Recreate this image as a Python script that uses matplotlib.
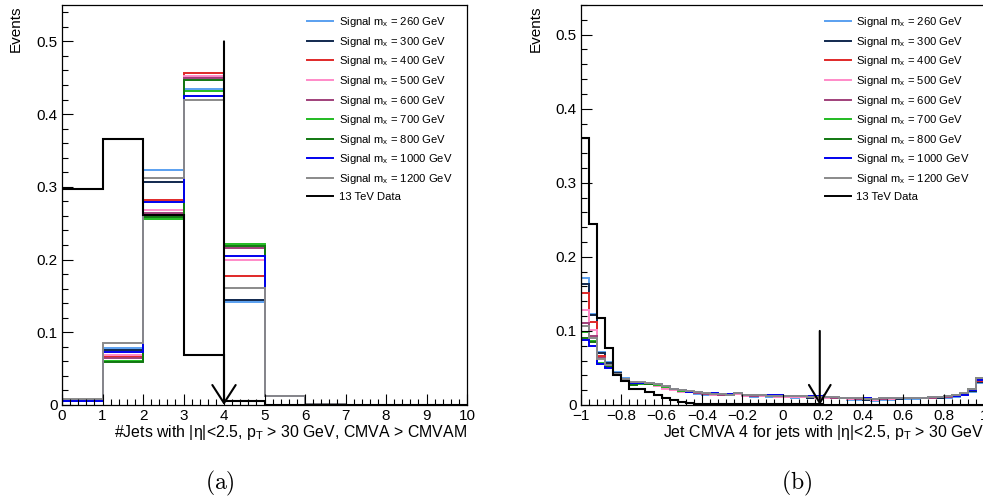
import numpy as np
import matplotlib.pyplot as plt
from matplotlib.lines import Line2D
from matplotlib.patches import FancyArrowPatch
from matplotlib.ticker import MultipleLocator, FuncFormatter

plt.rcParams['font.family'] = ['Liberation Sans', 'DejaVu Sans']
plt.rcParams['mathtext.fontset'] = 'custom'
plt.rcParams['mathtext.rm'] = 'Liberation Sans'
plt.rcParams['mathtext.it'] = 'Liberation Sans:italic'

# ---- samples ----
masses = [260, 300, 400, 500, 600, 700, 800, 1000, 1200]
colors = ['#5aa0f0', '#10284e', '#e02828', '#ff8ac8', '#a0407a',
          '#22bb22', '#117711', '#0000ee', '#8a8a8a']

# (a) number of CMVA-medium jets, bins 0..10
edges_a = np.arange(0, 11)
sig_a = {
    260:  [0.006, 0.079, 0.323, 0.435, 0.142, 0.012, 0.001, 0, 0, 0],
    300:  [0.007, 0.076, 0.306, 0.451, 0.145, 0.012, 0.001, 0, 0, 0],
    400:  [0.006, 0.066, 0.282, 0.457, 0.177, 0.012, 0.001, 0, 0, 0],
    500:  [0.006, 0.069, 0.268, 0.453, 0.1995, 0.012, 0.001, 0, 0, 0],
    600:  [0.006, 0.064, 0.264, 0.449, 0.216, 0.012, 0.001, 0, 0, 0],
    700:  [0.006, 0.061, 0.256, 0.432, 0.221, 0.013, 0.001, 0, 0, 0],
    800:  [0.006, 0.0595, 0.259, 0.4465, 0.219, 0.013, 0.001, 0, 0, 0],
    1000: [0.006, 0.073, 0.279, 0.425, 0.205, 0.012, 0.001, 0, 0, 0],
    1200: [0.008, 0.085, 0.3125, 0.420, 0.161, 0.012, 0.001, 0, 0, 0],
}
data_a = [0.297, 0.366, 0.261, 0.069, 0.006, 0, 0, 0, 0, 0]
cut_a = 4.0

# (b) jet CMVA discriminant, 50 bins from -1 to 1
edges_b = np.linspace(-1, 1, 51)
sig_b = {
    260:  [0.171, 0.123, 0.072, 0.058, 0.044, 0.036, 0.030, 0.030, 0.028, 0.026,
           0.023, 0.020, 0.018, 0.017, 0.015, 0.014, 0.014, 0.013, 0.013, 0.015,
           0.012, 0.011, 0.012, 0.011, 0.011, 0.011, 0.010, 0.011, 0.010, 0.010,
           0.010, 0.009, 0.009, 0.007, 0.007, 0.007, 0.006, 0.007, 0.007, 0.008,
           0.008, 0.008, 0.009, 0.009, 0.010, 0.010, 0.011, 0.013, 0.018, 0.030],
    300:  [0.163, 0.121, 0.070, 0.057, 0.043, 0.035, 0.030, 0.030, 0.029, 0.027,
           0.024, 0.021, 0.019, 0.017, 0.016, 0.015, 0.014, 0.014, 0.013, 0.016,
           0.012, 0.012, 0.012, 0.012, 0.011, 0.011, 0.011, 0.011, 0.010, 0.010,
           0.010, 0.010, 0.009, 0.008, 0.008, 0.007, 0.007, 0.008, 0.008, 0.008,
           0.009, 0.009, 0.009, 0.010, 0.010, 0.011, 0.012, 0.014, 0.019, 0.031],
    400:  [0.151, 0.112, 0.066, 0.053, 0.042, 0.034, 0.030, 0.029, 0.029, 0.026,
           0.023, 0.020, 0.019, 0.018, 0.016, 0.015, 0.015, 0.014, 0.014, 0.015,
           0.013, 0.012, 0.013, 0.012, 0.012, 0.012, 0.011, 0.012, 0.011, 0.011,
           0.011, 0.010, 0.010, 0.008, 0.008, 0.008, 0.007, 0.008, 0.008, 0.009,
           0.009, 0.009, 0.010, 0.010, 0.011, 0.011, 0.012, 0.014, 0.020, 0.033],
    500:  [0.128, 0.101, 0.063, 0.052, 0.041, 0.034, 0.029, 0.029, 0.028, 0.026,
           0.022, 0.020, 0.018, 0.017, 0.016, 0.015, 0.014, 0.014, 0.013, 0.015,
           0.012, 0.012, 0.012, 0.012, 0.011, 0.011, 0.011, 0.011, 0.011, 0.010,
           0.010, 0.010, 0.010, 0.008, 0.008, 0.008, 0.007, 0.008, 0.008, 0.009,
           0.009, 0.009, 0.010, 0.010, 0.011, 0.011, 0.012, 0.014, 0.020, 0.034],
    600:  [0.111, 0.093, 0.064, 0.054, 0.042, 0.035, 0.031, 0.030, 0.029, 0.027,
           0.024, 0.021, 0.019, 0.018, 0.016, 0.015, 0.015, 0.014, 0.014, 0.016,
           0.013, 0.012, 0.013, 0.012, 0.012, 0.012, 0.012, 0.012, 0.011, 0.011,
           0.011, 0.010, 0.010, 0.009, 0.008, 0.008, 0.008, 0.008, 0.009, 0.009,
           0.009, 0.010, 0.010, 0.010, 0.011, 0.011, 0.012, 0.015, 0.021, 0.035],
    700:  [0.099, 0.087, 0.057, 0.051, 0.040, 0.034, 0.029, 0.029, 0.029, 0.027,
           0.024, 0.021, 0.019, 0.018, 0.017, 0.016, 0.015, 0.015, 0.014, 0.016,
           0.013, 0.013, 0.013, 0.012, 0.012, 0.012, 0.012, 0.012, 0.011, 0.011,
           0.011, 0.011, 0.010, 0.009, 0.009, 0.008, 0.008, 0.009, 0.009, 0.009,
           0.010, 0.010, 0.010, 0.011, 0.011, 0.012, 0.013, 0.015, 0.022, 0.036],
    800:  [0.091, 0.085, 0.056, 0.051, 0.040, 0.033, 0.027, 0.030, 0.029, 0.028,
           0.025, 0.021, 0.020, 0.018, 0.017, 0.016, 0.015, 0.015, 0.014, 0.016,
           0.013, 0.013, 0.013, 0.012, 0.012, 0.012, 0.012, 0.012, 0.011, 0.011,
           0.011, 0.011, 0.010, 0.009, 0.009, 0.008, 0.008, 0.009, 0.009, 0.009,
           0.010, 0.010, 0.010, 0.011, 0.011, 0.012, 0.013, 0.015, 0.021, 0.036],
    1000: [0.088, 0.079, 0.055, 0.050, 0.040, 0.034, 0.030, 0.030, 0.030, 0.028,
           0.025, 0.022, 0.020, 0.018, 0.017, 0.016, 0.016, 0.015, 0.015, 0.016,
           0.014, 0.013, 0.013, 0.013, 0.013, 0.012, 0.012, 0.012, 0.012, 0.012,
           0.011, 0.011, 0.010, 0.009, 0.009, 0.009, 0.008, 0.009, 0.009, 0.010,
           0.010, 0.010, 0.010, 0.011, 0.011, 0.012, 0.012, 0.014, 0.020, 0.034],
    1200: [0.106, 0.090, 0.062, 0.054, 0.042, 0.035, 0.031, 0.031, 0.030, 0.028,
           0.025, 0.022, 0.020, 0.019, 0.017, 0.016, 0.015, 0.015, 0.014, 0.016,
           0.013, 0.013, 0.013, 0.012, 0.012, 0.012, 0.012, 0.012, 0.011, 0.011,
           0.011, 0.011, 0.010, 0.009, 0.009, 0.008, 0.008, 0.009, 0.009, 0.009,
           0.010, 0.010, 0.010, 0.011, 0.011, 0.012, 0.013, 0.016, 0.022, 0.037],
}
data_b = [0.360, 0.244, 0.118, 0.077, 0.041, 0.033, 0.021, 0.021, 0.018, 0.0135,
          0.010, 0.0065, 0.0045, 0.003, 0.002, 0.002, 0.002, 0.002, 0.002, 0.002,
          0.002, 0.001, 0.001, 0.001, 0.001, 0.001, 0.001, 0.001, 0.001, 0.001,
          0.0005, 0.0005, 0.0005, 0.0005, 0.0005, 0.0005, 0.0005, 0.0005, 0.0005, 0.0005,
          0.0005, 0.0005, 0.0005, 0.0005, 0.0005, 0.0005, 0.0005, 0.0005, 0.0005, 0.0005]
cut_b = 0.185


def fmt(v, pos):
    return ('%g' % round(v, 6)).replace('-', '\u2212')


def draw_panel(ax, edges, sig, data, cut, cut_top, xlabel, arrow_hw):
    for m, c in zip(masses, colors):
        ax.stairs(sig[m], edges, color=c, lw=1.4)
    ax.stairs(data, edges, color='black', lw=1.5)

    # cut arrow
    arr = FancyArrowPatch((cut, cut_top), (cut, 0), shrinkA=0, shrinkB=0,
                          arrowstyle='->,head_length=0.65,head_width=%g' % arrow_hw,
                          mutation_scale=20, color='black', lw=1.5, zorder=5)
    ax.add_patch(arr)

    ax.set_xlim(edges[0], edges[-1])
    ax.yaxis.set_major_locator(MultipleLocator(0.1))
    ax.yaxis.set_minor_locator(MultipleLocator(0.02))
    ax.xaxis.set_major_formatter(FuncFormatter(fmt))
    ax.yaxis.set_major_formatter(FuncFormatter(fmt))
    ax.tick_params(which='both', direction='in', top=False, right=False,
                   width=0.8, labelsize=11, pad=3)
    ax.tick_params(which='major', length=8)
    ax.tick_params(which='minor', length=4.3)
    for sp in ax.spines.values():
        sp.set_linewidth(0.9)

    ax.set_ylabel('Events', loc='top', fontsize=11)
    ax.yaxis.set_label_coords(-0.096, 1.0)
    ax.text(1.0, -0.081, xlabel, transform=ax.transAxes, ha='right',
            va='baseline', fontsize=11.4)

    handles = [Line2D([], [], color=c, lw=1.4) for c in colors]
    handles.append(Line2D([], [], color='black', lw=1.4))
    labels = ['Signal m$_{\\mathrm{x}}$ = %d GeV' % m for m in masses]
    labels.append('13 TeV Data')
    ax.legend(handles, labels, loc='upper left', bbox_to_anchor=(0.605, 0.975),
              frameon=False, fontsize=8.1, handlelength=2.3, handletextpad=0.5,
              labelspacing=0.5, borderpad=0, borderaxespad=0)


fig = plt.figure(figsize=(9.83, 5.0), dpi=100)
axa = fig.add_axes([62 / 983, 95 / 500, 405 / 983, 400 / 500])
axb = fig.add_axes([581 / 983, 95 / 500, 403 / 983, 400 / 500])

draw_panel(axa, edges_a, sig_a, data_a, cut_a, 0.5,
           '#Jets with |η|<2.5, p$_{\\mathrm{T}}$ > 30 GeV, CMVA > CMVAM', 0.42)
axa.set_ylim(0, 0.55)
axa.xaxis.set_major_locator(MultipleLocator(1))
axa.xaxis.set_minor_locator(MultipleLocator(0.2))

draw_panel(axb, edges_b, sig_b, data_b, cut_b, 0.1,
           'Jet CMVA 4 for jets with |η|<2.5, p$_{\\mathrm{T}}$ > 30 GeV', 0.39)
axb.set_ylim(0, 0.54)
axb.xaxis.set_major_locator(MultipleLocator(0.2))
axb.xaxis.set_minor_locator(MultipleLocator(0.04))

fig.text(220 / 983, 1 - 483 / 500, r'$\mathrm{(a)}$', ha='center', va='center',
         fontsize=17, math_fontfamily='cm')
fig.text(797 / 983, 1 - 483 / 500, r'$\mathrm{(b)}$', ha='center', va='center',
         fontsize=17, math_fontfamily='cm')

fig.savefig('out.png', dpi=100)
